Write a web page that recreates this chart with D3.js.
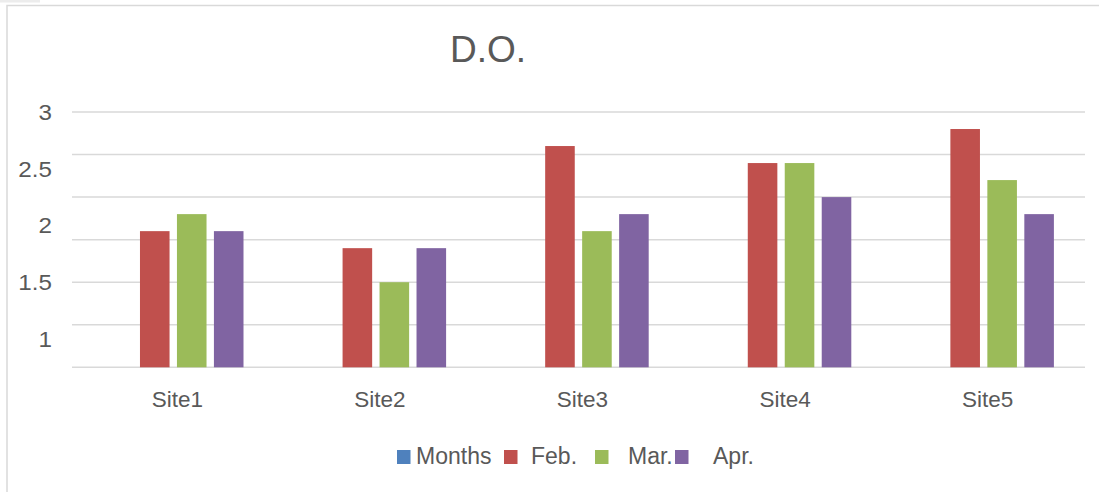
<!DOCTYPE html>
<html>
<head>
<meta charset="utf-8">
<script src="https://cdn.jsdelivr.net/npm/d3@7"></script>
<style>
    body { margin: 0; background: #fff; }
    text { font-family: "Liberation Sans", Arial, sans-serif; fill: #595959; }
</style>
</head>
<body>
<script>
(function(){

//chart data
var sites = ["Site1", "Site2", "Site3", "Site4", "Site5"];
var seriesNames = ["Months", "Feb.", "Mar.", "Apr."];
var febValues = [1.6, 1.4, 2.6, 2.4, 2.8];
var marValues = [1.8, 1.0, 1.6, 2.4, 2.2];
var aprValues = [1.6, 1.4, 1.8, 2.0, 1.8];
var monthsValues = [null, null, null, null, null]; //empty series, only in legend
var yTickLabels = ["3", "2.5", "2", "1.5", "1"];
var gridValues = [0, 0.5, 1, 1.5, 2, 2.5, 3];

var colors = ["#4F81BD", "#C0504D", "#9BBB59", "#8064A2"];

var width = 1099,
    height = 492,
    plotLeft = 72,
    plotRight = 1085,
    plotTop = 112,
    plotBottom = 367.3;

var svg = d3.select("body")
    .append("svg")
    .attr("width", width)
    .attr("height", height);

//outer frame (only top and left edges show)
svg.append("path")
    .attr("d", "M7,492V5.5H1099")
    .attr("fill", "none")
    .attr("stroke", "#d9d9d9")
    .attr("stroke-width", 1.5);
svg.append("rect")
    .attr("x", 0).attr("y", 0)
    .attr("width", 40).attr("height", 2.5)
    .attr("fill", "#ececec");

//scales
var x0 = d3.scaleBand()
    .domain(sites)
    .range([plotLeft, plotRight]);

var x1 = d3.scaleBand()
    .domain(seriesNames)
    .range([31, 171.5])
    .paddingInner(0.2);

var y = d3.scaleLinear()
    .domain([0, 3])
    .range([plotBottom, plotTop]);

//the printed tick labels do not sit on the gridlines
var yLabel = d3.scalePoint()
    .domain(yTickLabels)
    .range([112, 339]);

//gridlines
svg.selectAll(".grid")
    .data(gridValues)
    .enter()
    .append("line")
    .attr("class", "grid")
    .attr("x1", plotLeft)
    .attr("x2", plotRight)
    .attr("y1", function(d){ return y(d); })
    .attr("y2", function(d){ return y(d); })
    .attr("stroke", "#d9d9d9")
    .attr("stroke-width", 1.5);

//y labels
svg.selectAll(".ylabel")
    .data(yTickLabels)
    .enter()
    .append("text")
    .attr("class", "ylabel")
    .attr("x", 52)
    .attr("y", function(d){ return yLabel(d); })
    .attr("dy", "0.36em")
    .attr("text-anchor", "end")
    .style("font-size", "22px")
    .attr("transform", "translate(52,0) scale(1.1,1) translate(-52,0)")
    .text(function(d){ return d; });

//bars
var table = sites.map(function(s, i){
    return {site: s, values: [monthsValues[i], febValues[i], marValues[i], aprValues[i]]};
});

var groups = svg.selectAll(".site")
    .data(table)
    .enter()
    .append("g")
    .attr("class", "site")
    .attr("transform", function(d){ return "translate(" + x0(d.site) + ",0)"; });

groups.selectAll("rect")
    .data(function(d){
        return d.values.map(function(v, j){ return {name: seriesNames[j], value: v, color: colors[j]}; })
            .filter(function(e){ return e.value != null; });
    })
    .enter()
    .append("rect")
    .attr("x", function(d){ return x1(d.name); })
    .attr("width", x1.bandwidth())
    .attr("y", function(d){ return y(d.value); })
    .attr("height", function(d){ return y(0) - y(d.value); })
    .attr("fill", function(d){ return d.color; });

//category labels
svg.selectAll(".xlabel")
    .data(sites)
    .enter()
    .append("text")
    .attr("class", "xlabel")
    .attr("x", function(d){ return x0(d) + x0.bandwidth() / 2 + 4; })
    .attr("y", 407)
    .attr("text-anchor", "middle")
    .style("font-size", "22.5px")
    .text(function(d){ return d; });

//title
svg.append("text")
    .attr("x", 488)
    .attr("y", 62)
    .attr("text-anchor", "middle")
    .style("font-size", "37px")
    .text("D.O.");

//legend (uneven spacing as in the original)
var legendSwatchX = [397, 504, 595, 675],
    legendTextX = [416, 531, 628, 713];

var legend = svg.selectAll(".legend")
    .data(seriesNames)
    .enter()
    .append("g")
    .attr("class", "legend");

legend.append("rect")
    .attr("x", function(d, i){ return legendSwatchX[i]; })
    .attr("y", 450)
    .attr("width", 13.5)
    .attr("height", 14)
    .attr("fill", function(d, i){ return colors[i]; });

legend.append("text")
    .attr("x", function(d, i){ return legendTextX[i]; })
    .attr("y", 464)
    .style("font-size", "23px")
    .text(function(d){ return d; });

})();
</script>
</body>
</html>
